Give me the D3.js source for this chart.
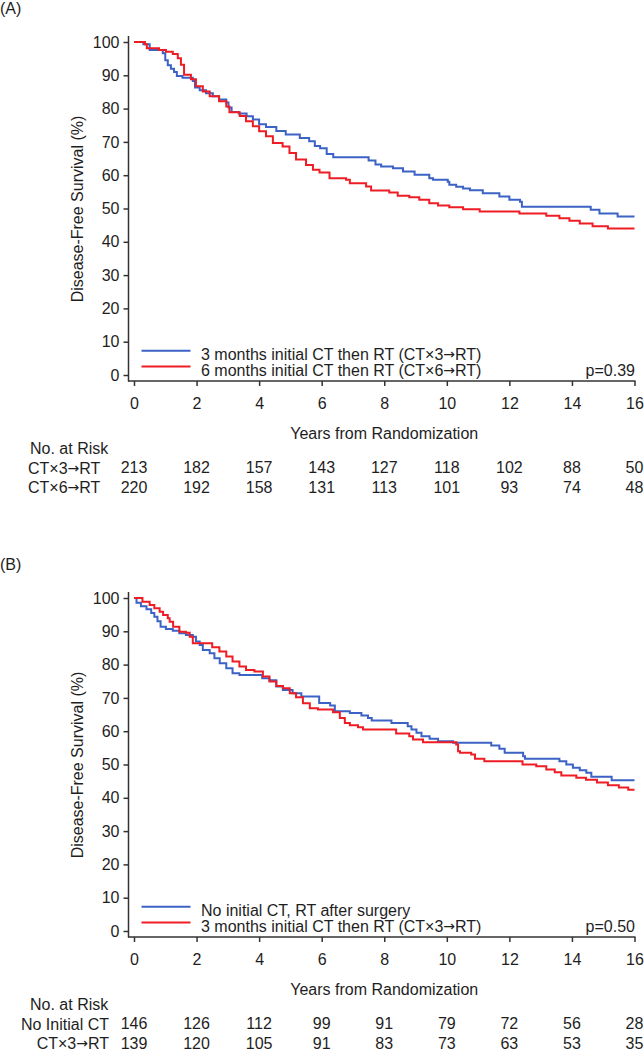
<!DOCTYPE html>
<html>
<head>
<meta charset="utf-8">
<script src="https://cdn.jsdelivr.net/npm/d3@7"></script>
<style>
  html, body { margin: 0; padding: 0; background: #fff; }
  svg { display: block; }
  text { font-family: "Liberation Sans", Arial, Helvetica, sans-serif; fill: #1e1e1e; }
</style>
</head>
<body>
<svg id="chart" width="644" height="1050"></svg>
<script>
// ---------------- DATA ----------------
const xTicks = [0, 2, 4, 6, 8, 10, 12, 14, 16];
const yTicks = [0, 10, 20, 30, 40, 50, 60, 70, 80, 90, 100];

// Panel A
const panelALabel = "(A)";
const legendA = ["3 months initial CT then RT (CT\u00d73\u2192RT)", "6 months initial CT then RT (CT\u00d76\u2192RT)"];
const pValueA = "p=0.39";
const riskLabelsA = ["CT\u00d73\u2192RT", "CT\u00d76\u2192RT"];
const riskA1 = [213, 182, 157, 143, 127, 118, 102, 88, 50];
const riskA2 = [220, 192, 158, 131, 113, 101, 93, 74, 48];

const timeA_blue = [0, 0.3, 0.5, 0.92, 1.0, 1.08, 1.18, 1.28, 1.37, 1.55, 1.88, 1.95, 2.1, 2.3, 2.52, 2.72, 2.95, 3.02, 3.12, 3.35, 3.6, 3.8, 4.0, 4.22, 4.55, 4.85, 5.3, 5.6, 5.78, 5.95, 6.16, 6.37, 7.5, 7.72, 7.9, 8.28, 8.6, 8.97, 9.44, 9.56, 10.03, 10.08, 10.3, 10.52, 10.74, 11.15, 11.68, 12.0, 12.34, 12.4, 14.6, 14.88, 15.46, 16.0];
const survA_blue = [100, 99.3, 97.6, 96.6, 94.5, 93, 92, 91, 89.8, 89.3, 88.3, 86.3, 85.5, 84.6, 83.7, 82.7, 81.8, 80.3, 79, 78.5, 77.7, 76.7, 75.3, 74.5, 73.3, 72.2, 71.2, 70.2, 68.8, 68.1, 66.4, 65.4, 64.4, 63.2, 62.6, 62.1, 61.1, 60.1, 59.1, 58.6, 58.0, 57.1, 56.5, 56.0, 55.5, 54.6, 53.6, 52.6, 52.0, 50.5, 49.6, 48.5, 47.6, 47.6];

const timeA_red = [0, 0.35, 0.41, 0.8, 1.02, 1.24, 1.4, 1.5, 1.6, 1.82, 1.98, 2.2, 2.42, 2.72, 2.95, 3.05, 3.38, 3.58, 3.8, 4.0, 4.22, 4.44, 4.75, 4.97, 5.18, 5.5, 5.72, 5.93, 6.25, 6.78, 6.9, 7.42, 7.58, 8.16, 8.43, 8.8, 9.12, 9.44, 9.72, 10.08, 10.52, 11.05, 12.32, 13.18, 13.6, 13.92, 14.25, 14.66, 15.15, 16.0];
const survA_red = [100, 99.3, 98.1, 97.6, 97.1, 96.4, 95.1, 93.2, 90.2, 88.8, 86.7, 85.1, 83.7, 82.2, 80.6, 78.9, 77.8, 76.2, 74.7, 73.2, 71.7, 69.7, 68.6, 66.7, 64.7, 63.1, 61.6, 60.8, 59.1, 58.6, 57.6, 56.6, 55.4, 54.8, 53.8, 53.4, 52.6, 51.6, 50.9, 50.4, 49.8, 49.1, 48.5, 47.8, 47.1, 46.3, 45.5, 44.7, 44.0, 44.0];

// Panel B
const panelBLabel = "(B)";
const legendB = ["No initial CT, RT after surgery", "3 months initial CT then RT (CT\u00d73\u2192RT)"];
const pValueB = "p=0.50";
const riskLabelsB = ["No Initial CT", "CT\u00d73\u2192RT"];
const riskB1 = [146, 126, 112, 99, 91, 79, 72, 56, 28];
const riskB2 = [139, 120, 105, 91, 83, 73, 63, 53, 35];

const timeB_blue = [0, 0.08, 0.22, 0.4, 0.55, 0.65, 0.75, 0.85, 1.02, 1.24, 1.45, 1.66, 1.88, 1.98, 2.1, 2.2, 2.42, 2.57, 2.74, 2.95, 3.15, 3.37, 4.1, 4.33, 4.55, 4.76, 5.07, 5.35, 5.92, 6.27, 6.42, 6.9, 7.27, 7.48, 7.6, 8.23, 8.75, 8.87, 9.03, 9.19, 9.45, 9.72, 10.2, 11.42, 11.68, 11.85, 12.44, 12.5, 13.6, 13.82, 14.03, 14.25, 14.46, 14.62, 15.27, 16.0];
const survB_blue = [100, 98.6, 97.5, 96.6, 95.5, 94.4, 93, 91.4, 90.7, 90.2, 89.4, 88.9, 88.4, 86.9, 85.9, 84.4, 83.4, 81.9, 80.4, 78.9, 77.4, 76.9, 75.9, 75.3, 73.4, 72.4, 71.4, 70.4, 68.5, 67.7, 66.0, 65.5, 64.7, 64.0, 63.2, 62.5, 61.5, 60.5, 59.5, 58.5, 57.7, 57.0, 56.5, 55.7, 54.7, 53.5, 52.5, 51.7, 51.0, 50.0, 49.0, 48.3, 47.5, 46.3, 45.3, 45.3];

const timeB_red = [0, 0.27, 0.5, 0.65, 0.82, 0.93, 1.08, 1.14, 1.25, 1.45, 1.66, 1.78, 1.88, 2.5, 2.73, 2.95, 3.15, 3.37, 3.58, 3.85, 4.12, 4.33, 4.55, 4.76, 4.98, 5.18, 5.4, 5.62, 5.88, 6.36, 6.58, 6.74, 6.9, 7.16, 7.32, 8.38, 8.8, 8.92, 9.24, 10.3, 10.36, 10.42, 10.78, 10.9, 11.2, 12.42, 12.86, 13.18, 13.45, 13.66, 14.14, 14.45, 14.8, 15.15, 15.5, 15.8, 16.0];
const survB_red = [100, 98.9, 97.9, 96.9, 95.9, 94.9, 93.9, 92.9, 91.4, 89.9, 89.6, 88.4, 86.4, 85.2, 83.9, 82.4, 80.9, 79.4, 78.4, 77.9, 76.4, 74.9, 73.6, 72.9, 71.4, 70.2, 68.4, 66.9, 66.5, 65.7, 64.0, 62.5, 61.8, 61.2, 60.5, 59.3, 58.5, 57.5, 56.7, 56.0, 54.0, 53.5, 53.0, 51.7, 51.0, 50.0, 49.5, 48.5, 47.7, 46.7, 46.0, 45.4, 44.6, 43.8, 43.1, 42.4, 42.4];

const yTitle = "Disease-Free Survival (%)";
const xTitle = "Years from Randomization";
const riskTitle = "No. at Risk";

// ---------------- STYLE ----------------
const BLUE = "#3b62c4";
const RED = "#ee1c24";
const AXIS = "#333";

const svg = d3.select("#chart");

// write a string into a text node, giving the arrow glyph a font that draws it full width
function fillText(sel, str) {
  const parts = String(str).split("\u2192");
  parts.forEach((p, i) => {
    if (i > 0) sel.append("tspan").attr("font-family", "'DejaVu Sans', sans-serif")
      .attr("font-size", 14).style("font-family", "'DejaVu Sans', sans-serif").text("\u2192");
    if (p.length) sel.append("tspan").text(p);
  });
  return sel;
}

function drawPanel(off, cfg) {
  const g = svg.append("g").attr("transform", `translate(0,${off})`);
  const x = d3.scaleLinear().domain([0, 16]).range([134, 634.5]);
  const y = d3.scaleLinear().domain([0, 100]).range([375, 42]);

  // panel label
  g.append("text").attr("x", 0).attr("y", 8).attr("dominant-baseline", "central")
    .attr("font-size", 16).text(cfg.label);

  // axis lines
  g.append("line").attr("x1", 128.5).attr("x2", 128.5).attr("y1", 36).attr("y2", 381.5)
    .attr("stroke", AXIS).attr("stroke-width", 1.5);
  g.append("line").attr("x1", 128).attr("x2", 635.5).attr("y1", 381).attr("y2", 381)
    .attr("stroke", AXIS).attr("stroke-width", 1.5);

  // y axis
  const ya = g.append("g").attr("transform", "translate(128.5,0)")
    .call(d3.axisLeft(y).tickValues(yTicks).tickSize(5).tickPadding(4).tickSizeOuter(0));
  ya.select(".domain").remove();
  ya.selectAll("line").attr("stroke", AXIS).attr("stroke-width", 1.5);
  ya.selectAll("text").attr("font-size", 16).attr("font-family", null).attr("fill", "#1e1e1e");

  // x axis
  const xa = g.append("g").attr("transform", "translate(0,381)")
    .call(d3.axisBottom(x).tickValues(xTicks).tickSize(5).tickPadding(12).tickSizeOuter(0));
  xa.select(".domain").remove();
  xa.selectAll("line").attr("stroke", AXIS).attr("stroke-width", 1.5);
  xa.selectAll("text").attr("font-size", 16).attr("font-family", null).attr("fill", "#1e1e1e");

  // y title
  g.append("text").attr("transform", "translate(77,209) rotate(-90)")
    .attr("text-anchor", "middle").attr("dominant-baseline", "central")
    .attr("font-size", 16).text(yTitle);

  // curves
  const line = d3.line().x(d => x(d[0])).y(d => y(d[1])).curve(d3.curveStepAfter);
  const seriesList = [
    { t: cfg.t1, s: cfg.s1, color: BLUE },
    { t: cfg.t2, s: cfg.s2, color: RED }
  ];
  seriesList.forEach(sr => {
    const pts = sr.t.map((t, i) => [t, sr.s[i]]);
    g.append("path").attr("d", line(pts)).attr("fill", "none")
      .attr("stroke", sr.color).attr("stroke-width", 2);
  });

  // legend
  const legY = [350.8, 366.5];
  const legTY = [353.5, 369.5];
  [BLUE, RED].forEach((c, i) => {
    g.append("line").attr("x1", 141.5).attr("x2", 190.5).attr("y1", legY[i]).attr("y2", legY[i])
      .attr("stroke", c).attr("stroke-width", 2);
    fillText(g.append("text").attr("x", 201).attr("y", legTY[i]).attr("dominant-baseline", "central")
      .attr("font-size", 16), cfg.legend[i]);
  });
  g.append("text").attr("x", 635).attr("y", 370).attr("text-anchor", "end")
    .attr("dominant-baseline", "central").attr("font-size", 16).text(cfg.p);

  // x title
  g.append("text").attr("x", x(8)).attr("y", 433).attr("text-anchor", "middle")
    .attr("dominant-baseline", "central").attr("font-size", 16).text(xTitle);

  // risk table
  g.append("text").attr("x", 30).attr("y", 448).attr("dominant-baseline", "central")
    .attr("font-size", 16).text(riskTitle);
  const rowY = [467.5, 487];
  [cfg.r1, cfg.r2].forEach((row, i) => {
    const lab = g.append("text").attr("y", rowY[i]).attr("dominant-baseline", "central")
      .attr("font-size", 16);
    fillText(lab, cfg.riskLabels[i]);
    if (cfg.rightAlign) lab.attr("x", 109).attr("text-anchor", "end");
    else lab.attr("x", 28);
    g.selectAll(null).data(row).enter().append("text")
      .attr("x", (d, j) => x(xTicks[j])).attr("y", rowY[i])
      .attr("text-anchor", "middle").attr("dominant-baseline", "central")
      .attr("font-size", 16).text(d => d);
  });
}

drawPanel(0, {
  label: panelALabel, legend: legendA, p: pValueA, riskLabels: riskLabelsA,
  r1: riskA1, r2: riskA2, t1: timeA_blue, s1: survA_blue, t2: timeA_red, s2: survA_red,
  rightAlign: false
});
drawPanel(556, {
  label: panelBLabel, legend: legendB, p: pValueB, riskLabels: riskLabelsB,
  r1: riskB1, r2: riskB2, t1: timeB_blue, s1: survB_blue, t2: timeB_red, s2: survB_red,
  rightAlign: true
});
</script>
</body>
</html>
